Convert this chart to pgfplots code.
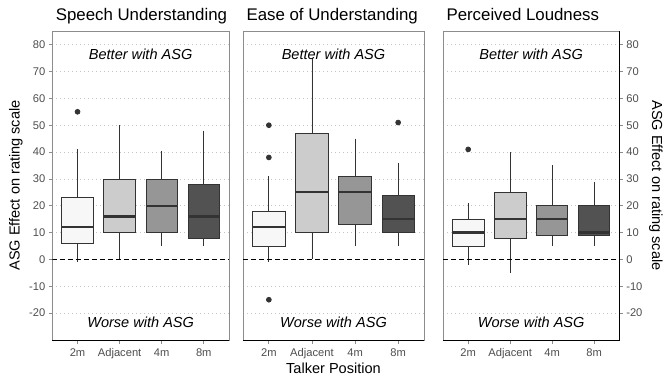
\documentclass[border=0pt]{standalone}
\usepackage{fontspec}
\setmainfont{Liberation Sans}
\usepackage{pgfplots}
\pgfplotsset{compat=1.18}
\usepgfplotslibrary{statistics}
\definecolor{c1}{HTML}{F7F7F7}
\definecolor{c2}{HTML}{CCCCCC}
\definecolor{c3}{HTML}{969696}
\definecolor{c4}{HTML}{525252}
\definecolor{edge}{HTML}{333333}
\definecolor{border}{HTML}{8C8C8C}
\definecolor{gridc}{HTML}{C4C4C4}
\definecolor{tickc}{HTML}{4D4D4D}
\newcommand\bx[8]{\addplot[boxplot prepared={draw position=#1, lower whisker=#2, lower quartile=#3, median=#4, upper quartile=#5, upper whisker=#6}, fill=#7, draw=edge, line width=0.8bp, mark=*, mark size=2.4bp, mark options={solid, fill=edge, draw=none}] coordinates {#8};}
\pgfplotsset{panel/.style={
  scale only axis, height=309bp,
  xmin=0.4, xmax=4.6, ymin=-30, ymax=85.1,
  xtick={1,2,3,4}, xticklabels={2m,Adjacent,4m,8m},
  ytick={-20,-10,0,10,20,30,40,50,60,70,80},
  ymajorgrids, major grid style={draw=gridc, line width=0.7bp, dash pattern=on 1bp off 3bp},
  axis line style={draw=border, line width=0.8bp},
  tick align=outside, major tick length=3.5bp,
  tick style={draw=border, line width=0.8bp},
  xtick pos=left,
  ticklabel style={font=\fontsize{11.2}{13}\selectfont, text=tickc},
  xticklabel style={anchor=base, yshift=-13bp},
  boxplot/draw direction=y,
  boxplot/box extend=0.75,
  boxplot/whisker extend=0,
  boxplot/every median/.style={line width=2.3bp},
}}
\newcommand\annot{%
  \node[anchor=base, font=\fontsize{14.6}{17}\selectfont\itshape] at (axis cs:2.5,74.6) {Better with ASG};
  \node[anchor=base, font=\fontsize{14.6}{17}\selectfont\itshape] at (axis cs:2.5,-25.35) {Worse with ASG};
  \addplot[black, line width=1.4bp, dash pattern=on 4.5bp off 3.5bp, forget plot] coordinates {(0.4,0) (4.6,0)};
}
\begin{document}
\begin{tikzpicture}
\path (0,0) rectangle (672bp,384bp);
% Panel 1
\begin{axis}[panel, name=p1, at={(52.3bp,44bp)}, anchor=south west, width=176.7bp,
  ytick pos=left, yticklabels={-20,-10,0,10,20,30,40,50,60,70,80}]
\bx{1}{-1}{6}{12}{23}{41}{c1}{(1,55)}
\bx{2}{0}{10}{16}{30}{50}{c2}{}
\bx{3}{5}{10}{20}{30}{40.5}{c3}{}
\bx{4}{5}{8}{16}{28}{48}{c4}{}
\annot
\end{axis}
% Panel 2
\begin{axis}[panel, name=p2, at={(243bp,44bp)}, anchor=south west, width=181bp,
  yticklabels={}, ytick style={draw=none}]
\bx{1}{-1}{5}{12}{18}{31}{c1}{(1,38) (1,50) (1,-15)}
\bx{2}{0}{10}{25}{47}{75}{c2}{}
\bx{3}{5}{13}{25}{31}{45}{c3}{}
\bx{4}{5}{10}{15}{24}{36}{c4}{(4,51)}
\annot
\end{axis}
% Panel 3
\begin{axis}[panel, name=p3, at={(443bp,44bp)}, anchor=south west, width=176.3bp,
  ytick pos=right, yticklabel pos=right, yticklabels={-20,-10,0,10,20,30,40,50,60,70,80}]
\bx{1}{-2}{5}{10}{15}{21}{c1}{(1,41)}
\bx{2}{-5}{8}{15}{25}{40}{c2}{}
\bx{3}{5}{9}{15}{20}{35}{c3}{}
\bx{4}{5}{9}{10}{20}{29}{c4}{}
\annot
\end{axis}
\draw[black, line width=0.8bp] (p1.south west) -- (p1.south east);
\draw[black, line width=0.8bp] (p2.south west) -- (p2.south east);
\draw[black, line width=0.8bp] (p3.south west) -- (p3.south east) -- (p3.north east);
\node[anchor=base west, font=\fontsize{16.9}{20}\selectfont] at ([yshift=10.5bp]p1.north west) {Speech Understanding};
\node[anchor=base west, font=\fontsize{16.9}{20}\selectfont] at ([yshift=10.5bp]p2.north west) {Ease of Understanding};
\node[anchor=base west, font=\fontsize{16.9}{20}\selectfont] at ([yshift=10.5bp]p3.north west) {Perceived Loudness};
\node[anchor=base, font=\fontsize{14.6}{17}\selectfont] at ([yshift=-33.5bp]p2.south) {Talker Position};
\node[anchor=base, rotate=90, font=\fontsize{14.6}{17}\selectfont] at (19.7bp,198.5bp) {ASG Effect on rating scale};
\node[anchor=base, rotate=-90, font=\fontsize{14.6}{17}\selectfont] at (652bp,198.5bp) {ASG Effect on rating scale};
\end{tikzpicture}
\end{document}
